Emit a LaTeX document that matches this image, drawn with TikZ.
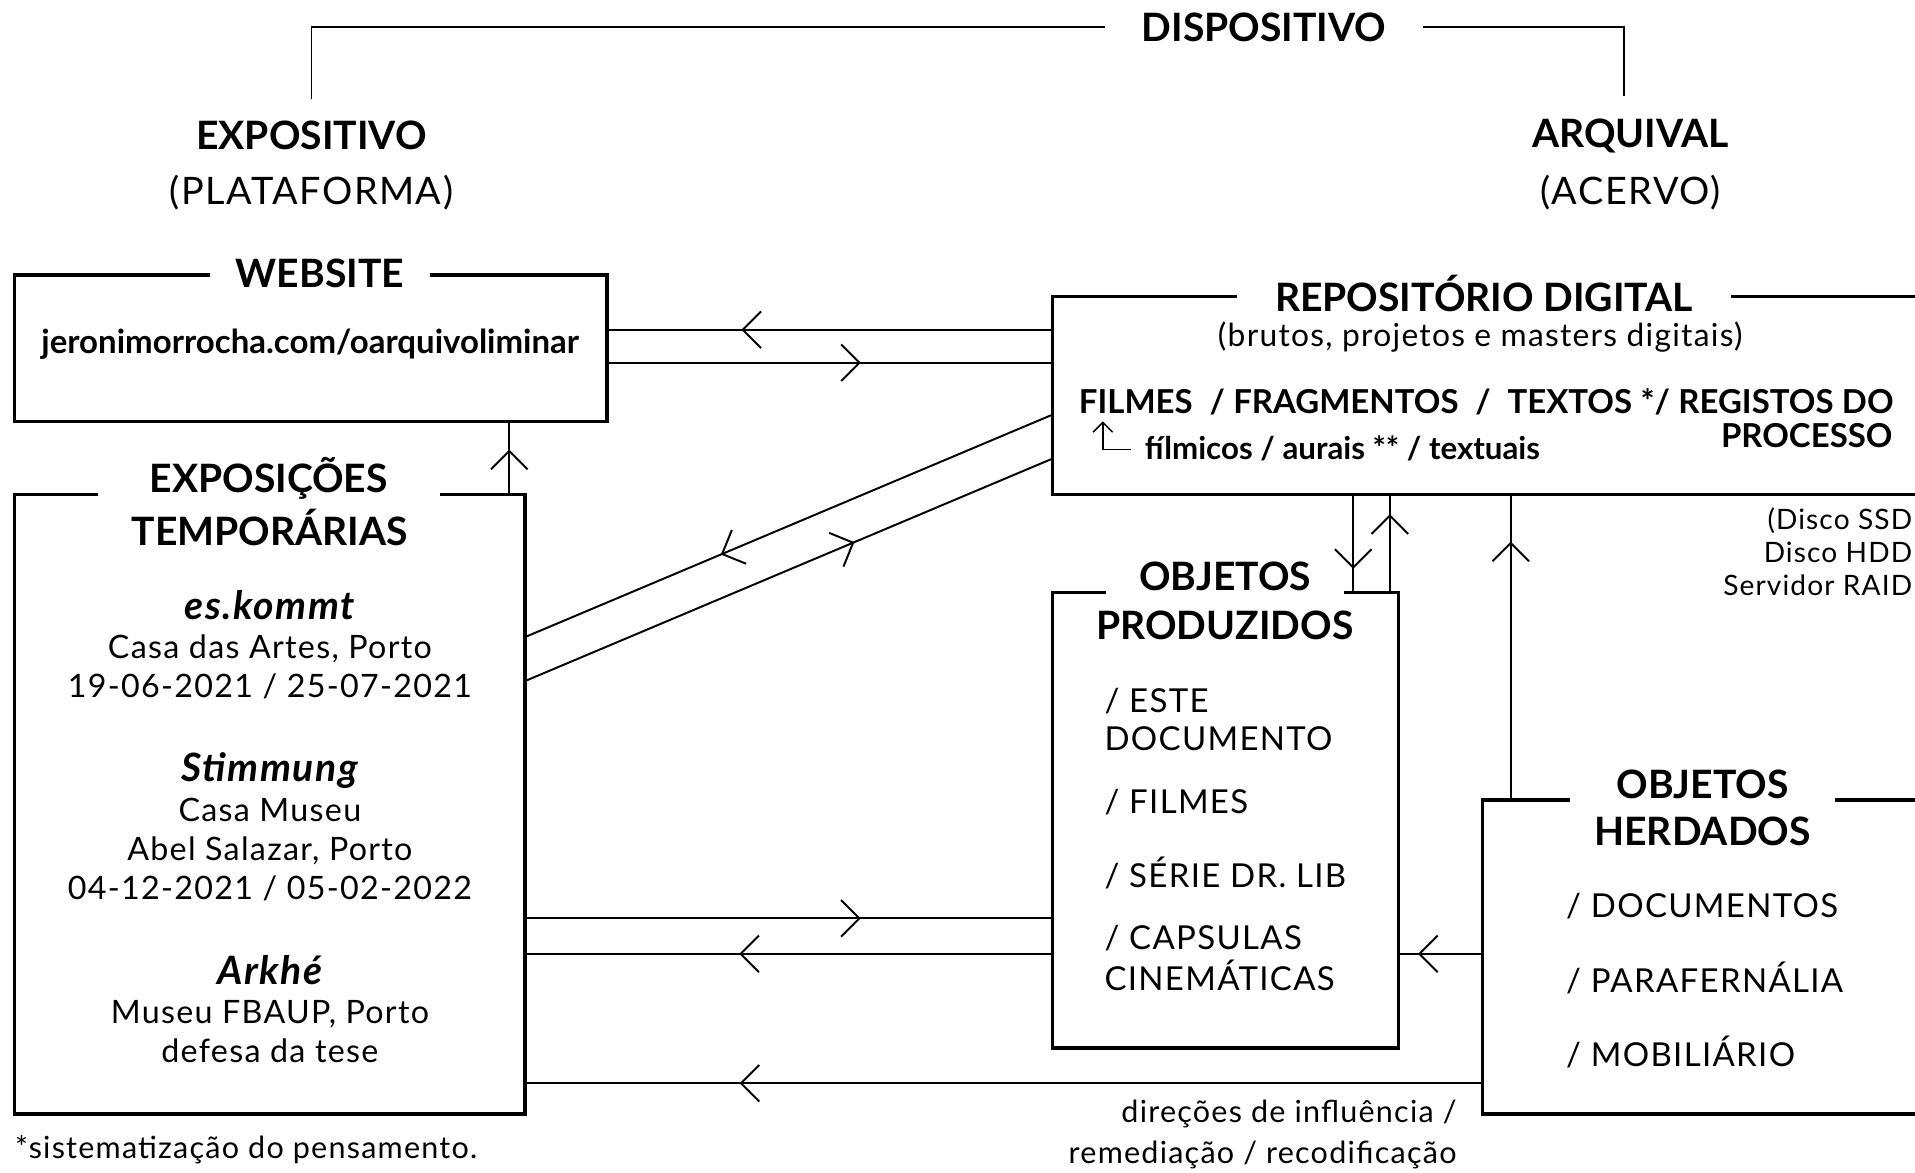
\documentclass[tikz,border=0pt]{standalone}
\usepackage{fontspec}
\setmainfont{Lato}
\newfontfamily\lite{Lato}[LetterSpace=4]
\usetikzlibrary{arrows.meta,decorations.markings,fit}

\begin{document}
\begin{tikzpicture}[x=0.5pt,y=-0.5pt,
    box/.style={draw,line width=1.4pt,inner sep=0pt},
    head/.style={font=\bfseries\fontsize{16}{20}\selectfont,inner sep=0pt},
    ttl/.style={head,fill=white,minimum height=18pt},
    sub/.style={font=\lite\fontsize{15.5}{19}\selectfont,inner sep=0pt},
    txt/.style={font=\lite\fontsize{13.2}{16}\selectfont,align=center,inner sep=0pt},
    item/.style={font=\lite\fontsize{13.5}{16}\selectfont,anchor=west,inner sep=0pt},
    note/.style={font=\lite\fontsize{12.5}{17}\selectfont,inner sep=0pt},
    link/.style={line width=0.8pt},
    chev/.tip={Straight Barb[length=7.5pt,width=15pt]},
    flow/.style={link,postaction={decorate},
      decoration={markings,mark=at position #1 with {\arrow{chev}}}}]
\useasboundingbox (0,0) rectangle (1568,960);

\node[head] (expl) at (255,111) {EXPOSITIVO};
\node[sub] (expsub) at (255,158) {(PLATAFORMA)};
\node[head] (arql) at (1335,111) {ARQUIVAL};
\node[sub] (arqsub) at (1335,158) {(ACERVO)};
\node[head,minimum width=130pt] (disp) at (1035,22) {DISPOSITIVO};
\draw[line width=0.7pt] ([yshift=9pt]expl.north) |- (disp.west);
\draw[line width=0.7pt] (disp.east) -| ([shift={(-2.5pt,9pt)}]arql.north);

\node[box,fit={(12,225)(497,345)}] (web) {};
\node[ttl,minimum width=90pt] (webttl) at (262,224) {WEBSITE};
\node[font=\bfseries\fontsize{13.5}{16}\selectfont] (url) at (254,282) {jeronimorrocha.com/oarquivoliminar};

\node[box,fit={(862,243)(1590,405)}] (repo) {};
\node[ttl,minimum width=202.5pt,minimum height=14pt] (repottl) at (1215,240) {REPOSITÓRIO DIGITAL};
\node[note,font=\lite\fontsize{13}{16}\selectfont] (brutos) at (1212,276) {(brutos, projetos e masters digitais)};
\node[anchor=west,inner sep=0pt,font=\bfseries\fontsize{13.5}{16}\selectfont] (kinds) at (883,329)
  {\makebox[333.5pt][s]{FILMES\ \ / FRAGMENTOS\ \ /\ \ TEXTOS */ REGISTOS DO}};
\node[anchor=east,inner sep=0pt,font=\bfseries\fontsize{13.5}{16}\selectfont] (proc) at (1550,357) {PROCESSO};
\draw[line width=0.6pt,-{Straight Barb[length=4pt,width=8pt]}] (926,368) -| (903,345);
\node[anchor=west,inner sep=0pt,font=\bfseries\fontsize{12.8}{14}\selectfont] (subkinds) at (937,367) {fílmicos / aurais ** / textuais};
\node[note,align=right,anchor=east,font=\lite\fontsize{11.5}{13.5}\selectfont] (disco) at (1566,452) {(Disco SSD\\Disco HDD\\Servidor RAID};

\node[box,fit={(12,405)(430,912)}] (expo) {};
\node[ttl,minimum width=140pt] (expottl) at (220,392) {EXPOSIÇÕES};
\node[head] (exposub) at (221,432) {TEMPORÁRIAS};
\node[txt] (ex1) at (221,528) {{\bfseries\itshape\fontsize{16}{16}\selectfont es.kommt}\\Casa das Artes, Porto\\19-06-2021 / 25-07-2021};
\node[txt] (ex2) at (221,677) {{\bfseries\itshape\fontsize{16}{16}\selectfont Stimmung}\\Casa Museu\\Abel Salazar, Porto\\04-12-2021 / 05-02-2022};
\node[txt] (ex3) at (221,826) {{\bfseries\itshape\fontsize{16}{16}\selectfont Arkhé}\\Museu FBAUP, Porto\\defesa da tese};

\node[box,fit={(862,485)(1145,858)}] (prod) {};
\node[ttl,minimum width=97.5pt] (prodttl) at (1003,472) {OBJETOS};
\node[head] (prodsub) at (1003,512) {PRODUZIDOS};
\node[item] (p1) at (904,574) {/ ESTE};
\node[item] (p2) at (904,605) {DOCUMENTO};
\node[item] (p3) at (904,657) {/ FILMES};
\node[item] (p4) at (904,715) {/ SÉRIE DR. LIB};
\node[item] (p5) at (904,768) {/ CAPSULAS};
\node[item] (p6) at (904,799) {CINEMÁTICAS};

\node[box,fit={(1214,655)(1590,912)}] (herd) {};
\node[ttl,minimum width=108.5pt] (herdttl) at (1394,642) {OBJETOS};
\node[head] (herdsub) at (1394,681) {HERDADOS};
\node[item] (h1) at (1282,742) {/ DOCUMENTOS};
\node[item] (h2) at (1282,801) {/ PARAFERNÁLIA};
\node[item] (h3) at (1282,861) {/ MOBILIÁRIO};

\draw[flow=0.7] (repo.west |- 0,270) -- (web.east |- 0,270);
\draw[flow=0.57] (web.east |- 0,297) -- (repo.west |- 0,297);
\draw[flow=0.62] (417,0 |- expo.north) -- (417,0 |- web.south);
\draw[flow=0.63] (repo.west |- 0,340) -- (expo.east |- 0,521);
\draw[flow=0.625] (expo.east |- 0,557) -- (repo.west |- 0,376);
\draw[flow=0.637] (expo.east |- 0,752) -- (prod.west |- 0,752);
\draw[flow=0.595] (prod.west |- 0,781) -- (expo.east |- 0,781);
\draw[flow=0.777] (herd.west |- 0,887) -- (expo.east |- 0,887);
\draw[flow=0.78] (herd.west |- 0,781) -- (prod.east |- 0,781);
\draw[flow=0.77] (1108,0 |- repo.south) -- (1108,0 |- prod.north);
\draw[flow=0.81] (1138,0 |- prod.north) -- (1138,0 |- repo.south);
\draw[flow=0.85] (1237,0 |- herd.north) -- (1237,0 |- repo.south);

\node[note,anchor=west] (foot) at (12,941) {*sistematização do pensamento.};
\node[note,align=right,anchor=east] (legend) at (1193,929) {direções de influência /\\remediação / recodificação};
\end{tikzpicture}
\end{document}
